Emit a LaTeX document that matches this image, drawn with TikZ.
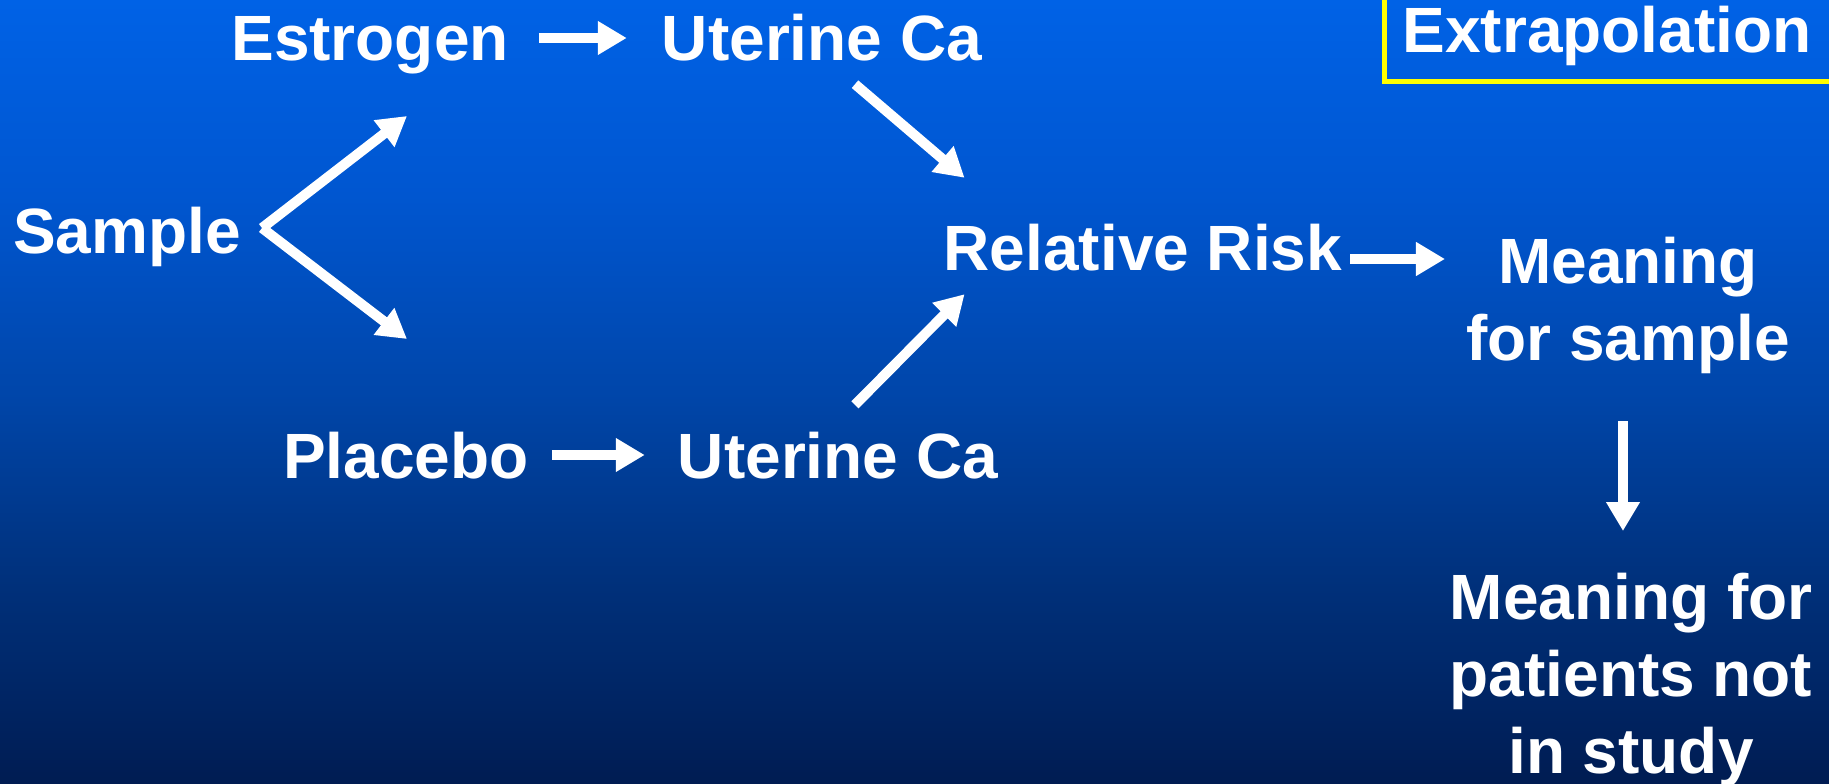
\documentclass[tikz,border=0pt]{standalone}
\usepackage{fontspec}
\setmainfont{Liberation Sans}
\usetikzlibrary{arrows.meta,calc}

% slide background: bright blue at the top, deep navy at the bottom
\definecolor{bgA}{RGB}{0,98,230}
\definecolor{bgB}{RGB}{0,86,208}
\definecolor{bgC}{RGB}{0,70,170}
\definecolor{bgD}{RGB}{0,48,122}
\definecolor{bgE}{RGB}{0,28,82}
\definecolor{frameyellow}{RGB}{255,255,0}
\pgfdeclareverticalshading{slidebg}{100bp}{%
  color(0bp)=(bgE); color(25bp)=(bgE); color(37.5bp)=(bgD);
  color(50bp)=(bgC); color(62.5bp)=(bgB); color(75bp)=(bgA); color(100bp)=(bgA)}

\tikzset{
  lbl/.style={text=white, font=\bfseries\fontsize{64pt}{77pt}\selectfont,
    inner sep=0pt, text height=46pt, text depth=0pt},
  multi/.style={text=white, font=\bfseries\fontsize{64pt}{77pt}\selectfont,
    inner sep=0pt, align=center},
  flow/.style={draw=white, line width=10pt,
    -{Triangle[length=29pt,width=32pt]}},
}

\begin{document}
\begin{tikzpicture}[x=1pt,y=-1pt]
  \useasboundingbox (0,0) rectangle (1829,784);
  \shade[shading=slidebg] (0,0) rectangle (1829,784);

  % frame around the heading in the corner
  \draw[frameyellow, line width=5pt] (1840,81.5) -- (1384.5,81.5) -- (1384.5,-10);

  % labels
  \node[lbl, anchor=base] (ext) at (1607,53)  {Extrapolation};
  \node[lbl, anchor=base] (est) at (370,61)   {Estrogen};
  \node[lbl, anchor=base] (uc1) at (822,61)   {Uterine Ca};
  \node[lbl, anchor=base] (smp) at (127,253)  {Sample};
  \node[lbl, anchor=base] (plc) at (406,478)  {Placebo};
  \node[lbl, anchor=base] (uc2) at (838,478)  {Uterine Ca};
  \node[lbl, anchor=base] (rr)  at (1143,270) {Relative Risk};
  \node[multi, anchor=north] (ms) at (1628,237) {Meaning\\for sample};
  \node[multi, anchor=north] (mp) at (1631,573) {Meaning for\\patients not\\in study};

  % fork from the sample into the two arms
  \coordinate (fork) at ($(smp.east)+(21,-2)$);
  \coordinate (armup) at (407,116);
  \coordinate (armdn) at (407,339);
  \draw[flow] (fork) -- (armup);
  \draw[flow] (fork) -- (armdn);

  % each arm to its outcome
  \draw[flow, shorten <=30pt, shorten >=35pt] (est.east) -- (uc1.west);
  \draw[flow, shorten <=23pt, shorten >=33pt] (plc.east) -- (uc2.west);

  % outcomes combined into the relative risk
  \draw[flow] ($(uc1.south)+(33,23)$) -- ($(rr.north west)+(21,-46)$);
  \draw[flow] ($(uc2.north)+(17,-27)$) -- ($(rr.south west)+(21,24)$);

  % interpretation chain
  \draw[flow] ($(rr.east)+(8,12)$) -- ($(rr.east -| ms.west)+(-21,12)$);
  \draw[flow] ($(ms.south)+(-5,47)$) -- ($(ms.south |- mp.north)+(-5,-42)$);
\end{tikzpicture}
\end{document}
